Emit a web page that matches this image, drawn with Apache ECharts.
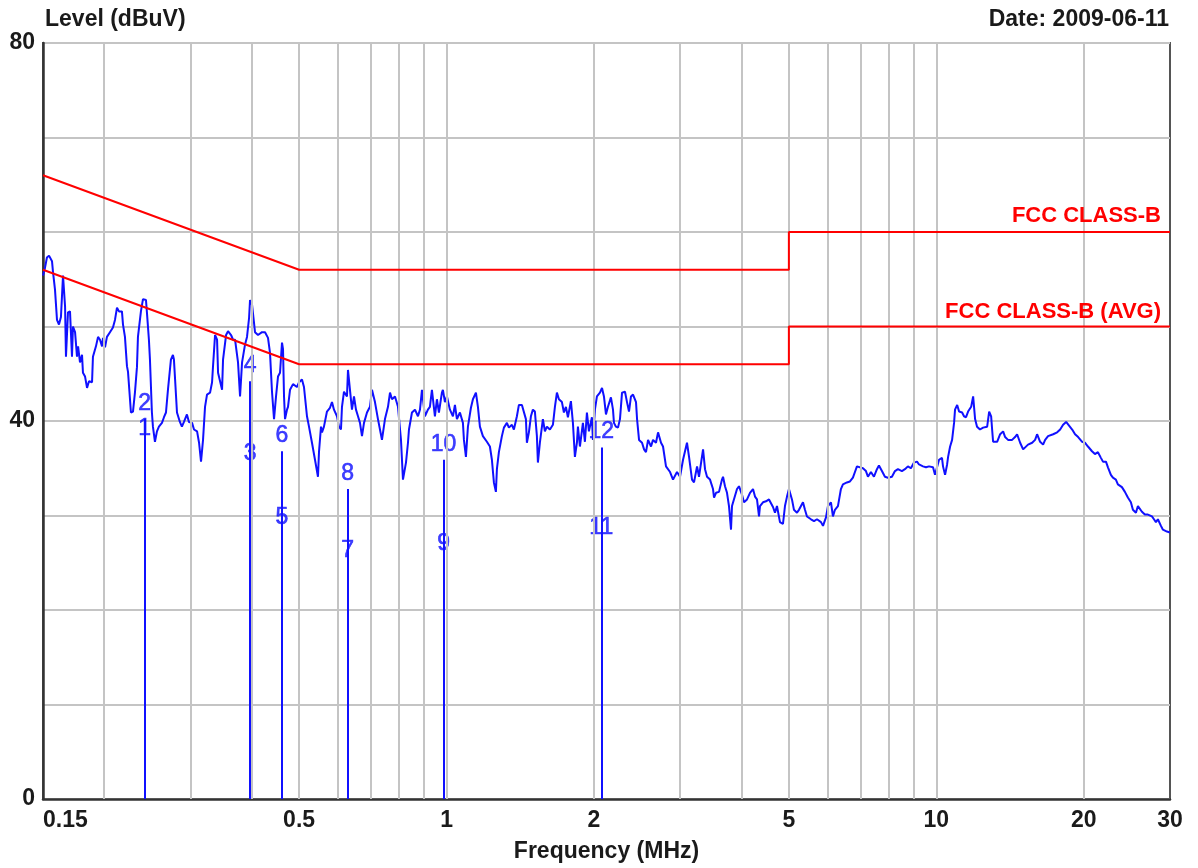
<!DOCTYPE html>
<html>
<head>
<meta charset="utf-8">
<script src="https://cdn.jsdelivr.net/npm/echarts@6/dist/echarts.min.js"></script>
<style>
html,body{margin:0;padding:0;background:#fff;}
#chart{width:1198px;height:868px;}
</style>
</head>
<body>
<div id="chart"></div>
<script>
// ---- data ----
const specFreq = [0.150,0.1514,0.1528,0.1543,0.1565,0.1572,0.1587,0.1602,0.1617,0.1632,0.1648,0.1664,0.1671,0.1687,0.1703,0.1719,0.1727,0.1744,0.1760,0.1769,0.1785,0.1802,0.1810,0.1828,0.1845,0.1862,0.1889,0.1897,0.1924,0.1943,0.1961,0.1980,0.1989,0.2008,0.2026,0.2055,0.2084,0.2104,0.2124,0.2144,0.2174,0.2185,0.2205,0.2226,0.2237,0.2268,0.2290,0.2311,0.2333,0.2344,0.2377,0.2400,0.2434,0.2445,0.2468,0.2480,0.2503,0.2515,0.2539,0.2563,0.2587,0.2624,0.2649,0.2674,0.2699,0.2737,0.2763,0.2776,0.2789,0.2816,0.2855,0.2882,0.2910,0.2951,0.2979,0.3023,0.3051,0.3095,0.3124,0.3153,0.3183,0.3213,0.3243,0.3290,0.3321,0.3336,0.3368,0.3400,0.3416,0.3448,0.3481,0.3497,0.3547,0.3580,0.3631,0.3665,0.3700,0.3752,0.3788,0.3824,0.3878,0.3914,0.3952,0.3970,0.4008,0.4064,0.4122,0.4200,0.4260,0.4320,0.4361,0.4402,0.4444,0.4486,0.4528,0.4571,0.4614,0.4636,0.4658,0.4680,0.4724,0.4746,0.4791,0.4859,0.4950,0.5000,0.5068,0.5116,0.5189,0.5238,0.5312,0.5388,0.5464,0.5490,0.5542,0.5568,0.5620,0.5700,0.5781,0.5836,0.5891,0.5975,0.6031,0.6088,0.6117,0.6175,0.6262,0.6292,0.6351,0.6411,0.6472,0.6533,0.6595,0.6657,0.6720,0.6784,0.6880,0.6977,0.7043,0.7143,0.7244,0.7313,0.7382,0.7487,0.7594,0.7666,0.7738,0.7848,0.7959,0.8072,0.8148,0.8264,0.8342,0.8381,0.8500,0.8621,0.8743,0.8826,0.8909,0.9034,0.9162,0.9248,0.9336,0.9469,0.9558,0.9648,0.9785,0.9831,0.9925,1.0019,1.0161,1.0305,1.0403,1.0501,1.0650,1.0801,1.0852,1.0955,1.1058,1.1215,1.1321,1.1482,1.1590,1.1699,1.1865,1.1977,1.2090,1.2262,1.2377,1.2494,1.2612,1.2672,1.2791,1.2973,1.3096,1.3282,1.3407,1.3598,1.3726,1.3921,1.4053,1.4253,1.4387,1.4523,1.4591,1.4729,1.4868,1.5008,1.5150,1.5293,1.5365,1.5510,1.5731,1.5880,1.6030,1.6258,1.6489,1.6645,1.6802,1.6961,1.7202,1.7364,1.7528,1.7694,1.7945,1.8115,1.8286,1.8459,1.8546,1.8721,1.8987,1.9167,1.9348,1.9531,1.9808,1.9902,2.009,2.028,2.057,2.077,2.096,2.116,2.136,2.166,2.187,2.197,2.218,2.239,2.260,2.282,2.314,2.336,2.358,2.380,2.403,2.437,2.449,2.472,2.507,2.531,2.554,2.579,2.615,2.640,2.677,2.703,2.741,2.767,2.806,2.860,2.900,2.955,2.997,3.040,3.097,3.127,3.171,3.201,3.247,3.277,3.340,3.371,3.403,3.451,3.500,3.517,3.550,3.600,3.651,3.669,3.703,3.738,3.773,3.809,3.827,3.863,3.918,3.955,4.011,4.049,4.107,4.165,4.224,4.264,4.304,4.345,4.365,4.427,4.490,4.554,4.640,4.684,4.728,4.795,4.863,4.909,4.956,5.002,5.073,5.121,5.194,5.243,5.343,5.393,5.444,5.548,5.627,5.706,5.815,5.870,5.953,6.008,6.094,6.151,6.209,6.297,6.386,6.447,6.569,6.663,6.757,6.821,6.886,6.951,7.083,7.183,7.251,7.354,7.459,7.564,7.636,7.744,7.854,7.965,8.117,8.233,8.350,8.507,8.628,8.750,8.874,9.004,9.132,9.219,9.394,9.527,9.662,9.846,9.939,10.03,10.13,10.27,10.32,10.42,10.52,10.57,10.67,10.77,10.87,10.92,11.03,11.13,11.29,11.39,11.50,11.61,11.78,11.89,11.94,12.00,12.11,12.28,12.46,12.70,12.82,12.94,13.00,13.06,13.31,13.50,13.69,13.82,14.01,14.28,14.48,14.62,14.83,15.04,15.18,15.39,15.69,15.91,16.06,16.29,16.52,16.68,16.91,17.32,17.65,17.90,18.15,18.41,18.58,18.94,19.20,19.48,19.85,20.11,20.40,20.79,21.08,21.38,21.68,21.89,22.20,22.41,22.72,22.94,23.26,23.48,23.93,24.27,24.61,24.96,25.20,25.56,25.80,26.29,26.66,27.04,27.56,27.82,28.08,28.34,28.75,29.02,29.57,30.00];
const specLevel = [55.4,56.2,57.3,57.5,56.9,55.8,53.9,50.7,50.2,51.0,55.4,52.1,46.8,51.5,51.6,46.8,50.0,49.4,46.8,47.9,46.2,47.0,45.1,44.7,43.5,44.2,44.1,46.8,47.9,48.9,48.6,47.9,48.8,47.8,48.9,49.4,49.9,50.7,52.0,51.6,51.6,50.2,48.9,45.8,45.2,40.9,41.0,43.0,45.7,48.9,51.6,52.9,52.8,51.5,48.6,46.5,40.9,39.4,37.8,38.9,39.4,39.8,40.4,40.9,43.3,46.5,47.0,46.5,44.7,40.9,39.9,39.4,39.9,40.7,39.9,39.8,39.1,38.9,37.7,35.7,38.0,41.5,42.8,43.0,44.1,45.8,49.1,48.6,45.1,44.9,43.3,46.5,49.1,49.5,49.1,48.6,48.6,46.2,42.6,46.2,48.1,48.9,50.9,52.8,52.3,49.4,49.1,49.4,49.4,48.8,47.2,43.1,40.2,42.6,44.7,45.1,48.3,47.6,42.6,40.2,41.2,41.5,43.3,43.9,43.6,44.1,44.4,43.6,40.5,39.4,37.7,35.9,34.1,36.7,39.4,38.8,39.4,41.0,41.4,42.0,41.2,40.5,39.4,39.1,41.5,43.1,42.6,45.4,43.3,41.2,42.6,41.2,40.5,39.8,38.4,39.8,40.9,41.5,43.3,42.0,40.2,39.1,38.0,40.2,41.5,43.0,42.3,42.6,41.5,38.0,33.8,35.6,37.7,39.1,40.9,41.2,40.5,41.2,43.3,40.5,41.2,41.5,43.3,40.5,42.3,40.9,43.0,43.3,42.0,42.6,41.2,40.5,41.7,40.2,40.9,39.8,38.0,36.2,39.4,41.4,42.3,43.0,41.5,39.4,38.4,38.3,37.8,37.3,35.9,33.5,32.5,34.9,36.7,38.4,39.3,39.8,39.3,39.6,39.1,40.5,41.7,41.7,41.5,40.2,37.7,38.8,40.5,41.2,41.0,38.4,35.6,37.7,40.2,38.9,39.4,39.1,39.6,41.5,43.0,42.3,42.0,40.9,41.5,40.4,42.1,39.8,36.2,37.7,39.4,37.3,39.8,37.8,40.9,38.9,40.4,38.0,41.2,42.6,43.0,43.5,42.6,40.7,41.5,42.5,41.2,39.8,39.4,39.3,40.2,43.0,43.1,42.0,41.0,42.6,42.8,42.0,40.2,38.0,37.7,37.0,36.7,38.0,37.3,38.0,37.7,38.8,37.7,37.3,35.2,34.6,33.8,34.6,34.1,35.9,37.7,36.2,33.8,33.5,35.2,34.1,37.0,34.9,34.1,33.8,32.8,31.9,32.4,32.5,33.8,34.1,33.1,32.4,31.0,28.5,31.0,31.0,32.8,33.1,32.2,31.4,31.7,32.4,32.8,32.0,31.7,29.9,31.0,31.4,31.5,31.7,30.9,30.3,31.0,29.3,29.1,31.0,32.0,32.8,31.7,30.6,30.3,30.6,31.4,30.6,29.9,29.6,29.4,29.6,29.3,28.9,29.8,31.0,31.4,29.9,30.6,31.0,32.8,33.3,33.5,33.6,34.0,34.6,35.2,35.1,35.0,34.7,34.1,34.6,34.1,34.9,35.3,34.7,34.1,34.0,34.1,34.7,34.9,34.7,34.9,35.2,35.0,35.6,35.7,35.4,35.2,35.1,35.2,35.1,34.3,34.3,35.9,36.1,35.2,34.3,35.4,36.2,37.3,38.0,39.8,41.2,41.7,41.0,40.9,40.5,40.4,41.0,41.5,42.6,42.6,40.2,39.4,39.1,39.3,39.4,41.0,40.5,39.1,37.8,37.8,38.6,38.9,38.3,38.0,38.0,38.3,38.6,37.7,37.0,37.2,37.5,37.7,38.0,38.6,37.8,37.5,38.0,38.4,38.6,38.8,39.1,39.6,39.9,39.7,39.1,38.6,38.3,37.8,37.7,37.3,36.8,36.5,36.7,36.1,35.7,35.7,35.1,34.3,34.0,33.8,33.3,33.0,32.5,31.9,31.4,30.6,30.3,31.0,30.4,30.1,30.1,29.9,29.6,29.3,29.6,28.9,28.5,28.3,28.2];

const limitQPFreq  = [0.15, 0.5, 5, 5, 30];
const limitQPLevel = [66, 56, 56, 60, 60];
const limitAVFreq  = [0.15, 0.5, 5, 5, 30];
const limitAVLevel = [56, 46, 46, 50, 50];

const markerFreq  = [0.242, 0.397, 0.461, 0.628, 0.986, 2.07];
const markerQP    = [40.2, 44.2, 36.8, 32.8, 35.9, 37.2];
const markerAVG   = [37.6, 34.9, 28.1, 24.6, 25.4, 27.1];
const markerQPNo  = ['2', '4', '6', '8', '10', '12'];
const markerAVGNo = ['1', '3', '5', '7', '9', '11'];

const xTickLabels = [0.15, 0.5, 1, 2, 5, 10, 20, 30];
const xGridLines  = [0.2, 0.3, 0.4, 0.5, 0.6, 0.7, 0.8, 0.9, 1, 2, 3, 4, 5, 6, 7, 8, 9, 10, 20];
const yTickLabels = [0, 40, 80];

// ---- build ----
const zip = (a, b) => a.map((v, i) => [v, b[i]]);
const BLUE = '#1010ff';
const RED = '#ff0000';
const FONT = '"Liberation Sans", Arial, sans-serif';

const chart = echarts.init(document.getElementById('chart'), null, {renderer: 'canvas'});
const option = {
  animation: false,
  backgroundColor: '#ffffff',
  title: [
    {text: 'Level (dBuV)', left: 40, top: 3,
     textStyle: {fontFamily: FONT, fontWeight: 'bold', fontSize: 23, color: '#1a1a1a'}},
    {text: 'Date: 2009-06-11', right: 24, top: 3,
     textStyle: {fontFamily: FONT, fontWeight: 'bold', fontSize: 23, color: '#1a1a1a'}}
  ],
  grid: {left: 43, right: 28, top: 43, bottom: 68, show: true, borderColor: '#555', borderWidth: 2, backgroundColor: 'transparent'},
  xAxis: {
    type: 'log', logBase: 10, min: 0.15, max: 30,
    name: 'Frequency (MHz)', nameLocation: 'middle', nameGap: 41,
    nameTextStyle: {fontFamily: FONT, fontWeight: 'bold', fontSize: 23, color: '#1a1a1a'},
    axisLine: {show: true, lineStyle: {color: '#333', width: 2.5}},
    axisTick: {show: false},
    splitLine: {show: false},
    minorSplitLine: {show: false},
    axisLabel: {
      customValues: xTickLabels,
      margin: 10,
      fontFamily: FONT, fontWeight: 'bold', fontSize: 23, color: '#1a1a1a',
      alignMinLabel: 'left',
      formatter: v => String(+(+v).toFixed(2))
    }
  },
  yAxis: {
    type: 'value', min: 0, max: 80, interval: 10,
    axisLine: {show: true, lineStyle: {color: '#333', width: 2.5}},
    axisTick: {show: false},
    splitLine: {show: true, lineStyle: {color: '#c4c4c4', width: 2}},
    axisLabel: {
      margin: 8, fontFamily: FONT, fontWeight: 'bold', fontSize: 23, color: '#1a1a1a',
      formatter: v => (yTickLabels.indexOf(v) >= 0 ? String(v) : '')
    }
  },
  series: [
    {
      type: 'line', data: [], silent: true, z: 1,
      markLine: {
        silent: true, symbol: 'none', label: {show: false},
        lineStyle: {color: '#c4c4c4', width: 2, type: 'solid'},
        data: xGridLines.map(f => ({xAxis: f}))
      }
    },
    {
      name: 'spectrum', type: 'line', z: 3,
      data: zip(specFreq, specLevel),
      showSymbol: false, symbol: 'none',
      lineStyle: {color: BLUE, width: 2},
      itemStyle: {color: BLUE}
    },
    {
      type: 'line', data: [], z: 3,
      markLine: {
        silent: true, symbol: 'none', label: {show: false},
        lineStyle: {color: BLUE, width: 2, type: 'solid'},
        data: markerFreq.map((f, i) => [{coord: [f, 0]}, {coord: [f, markerQP[i]]}])
      }
    },
    {
      type: 'scatter', z: 4, symbolSize: 0,
      data: markerFreq.map((f, i) => [f, markerQP[i], markerQPNo[i]]),
      label: {show: true, position: 'top', distance: 4, formatter: p => p.value[2],
              fontFamily: FONT, fontSize: 23, color: BLUE, textBorderColor: BLUE, textBorderWidth: 0.6}
    },
    {
      type: 'scatter', z: 4, symbolSize: 0,
      data: markerFreq.map((f, i) => [f, markerAVG[i], markerAVGNo[i]]),
      label: {show: true, position: 'top', distance: 4, formatter: p => p.value[2],
              fontFamily: FONT, fontSize: 23, color: BLUE, textBorderColor: BLUE, textBorderWidth: 0.6}
    },
    {
      name: 'FCC CLASS-B', type: 'line', z: 5,
      data: zip(limitQPFreq, limitQPLevel),
      showSymbol: false, symbol: 'none',
      lineStyle: {color: RED, width: 2},
      markPoint: {
        symbol: 'circle', symbolSize: 0, silent: true,
        data: [{coord: [30, 60]}],
        label: {show: true, formatter: 'FCC CLASS-B', position: 'left', distance: 9, offset: [0, -16],
                fontFamily: FONT, fontWeight: 'bold', fontSize: 22, color: RED}
      }
    },
    {
      name: 'FCC CLASS-B (AVG)', type: 'line', z: 5,
      data: zip(limitAVFreq, limitAVLevel),
      showSymbol: false, symbol: 'none',
      lineStyle: {color: RED, width: 2},
      markPoint: {
        symbol: 'circle', symbolSize: 0, silent: true,
        data: [{coord: [30, 50]}],
        label: {show: true, formatter: 'FCC CLASS-B (AVG)', position: 'left', distance: 9, offset: [0, -15],
                fontFamily: FONT, fontWeight: 'bold', fontSize: 22, color: RED}
      }
    }
  ]
};
chart.setOption(option);
</script>
</body>
</html>
